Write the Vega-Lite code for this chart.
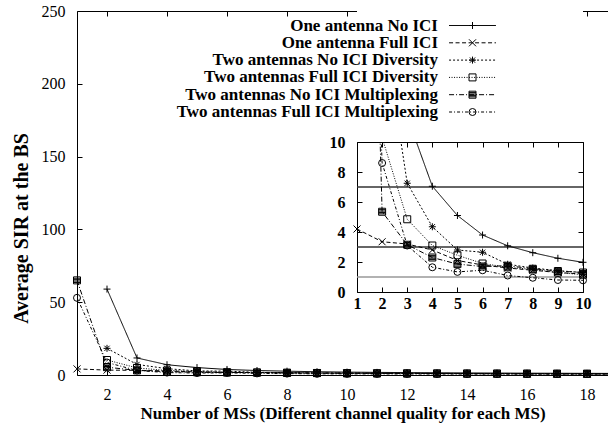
{
  "$schema": "https://vega.github.io/schema/vega-lite/v6.json",
  "autosize": "none",
  "padding": {"left": 77, "top": 11, "right": 0, "bottom": 53},
  "width": 531,
  "height": 364,
  "background": "white",
  "config": {
    "font": "Liberation Serif",
    "view": {"stroke": null},
    "axis": {
      "labelFont": "Liberation Serif", "labelFontSize": 16, "labelColor": "black",
      "titleFont": "Liberation Serif", "titleFontSize": 17, "titleFontWeight": "bold", "titleColor": "black",
      "domainColor": "black", "domainWidth": 1, "tickColor": "black", "tickWidth": 1,
      "grid": false, "labelFlush": false, "labelOverlap": false, "zindex": 1
    },
    "legend": {"symbolOpacity": 1}
  },
  "datasets": {
    "sir": [
      {"series": "One antenna No ICI", "n": 2, "sir": 59},
      {"series": "One antenna No ICI", "n": 3, "sir": 11.7},
      {"series": "One antenna No ICI", "n": 4, "sir": 7.05},
      {"series": "One antenna No ICI", "n": 5, "sir": 5.1},
      {"series": "One antenna No ICI", "n": 6, "sir": 3.8},
      {"series": "One antenna No ICI", "n": 7, "sir": 3.08},
      {"series": "One antenna No ICI", "n": 8, "sir": 2.62},
      {"series": "One antenna No ICI", "n": 9, "sir": 2.25},
      {"series": "One antenna No ICI", "n": 10, "sir": 1.98},
      {"series": "One antenna No ICI", "n": 11, "sir": 1.8},
      {"series": "One antenna No ICI", "n": 12, "sir": 1.65},
      {"series": "One antenna No ICI", "n": 13, "sir": 1.52},
      {"series": "One antenna No ICI", "n": 14, "sir": 1.42},
      {"series": "One antenna No ICI", "n": 15, "sir": 1.33},
      {"series": "One antenna No ICI", "n": 16, "sir": 1.25},
      {"series": "One antenna No ICI", "n": 17, "sir": 1.19},
      {"series": "One antenna No ICI", "n": 18, "sir": 1.13},
      {"series": "One antenna No ICI", "n": 19, "sir": 1.08},
      {"series": "One antenna Full ICI", "n": 1, "sir": 4.2},
      {"series": "One antenna Full ICI", "n": 2, "sir": 3.35},
      {"series": "One antenna Full ICI", "n": 3, "sir": 3.2},
      {"series": "One antenna Full ICI", "n": 4, "sir": 2.8},
      {"series": "One antenna Full ICI", "n": 5, "sir": 2.1},
      {"series": "One antenna Full ICI", "n": 6, "sir": 1.8},
      {"series": "One antenna Full ICI", "n": 7, "sir": 1.6},
      {"series": "One antenna Full ICI", "n": 8, "sir": 1.45},
      {"series": "One antenna Full ICI", "n": 9, "sir": 1.3},
      {"series": "One antenna Full ICI", "n": 10, "sir": 1.2},
      {"series": "One antenna Full ICI", "n": 11, "sir": 1.12},
      {"series": "One antenna Full ICI", "n": 12, "sir": 1.05},
      {"series": "One antenna Full ICI", "n": 13, "sir": 1.0},
      {"series": "One antenna Full ICI", "n": 14, "sir": 0.95},
      {"series": "One antenna Full ICI", "n": 15, "sir": 0.9},
      {"series": "One antenna Full ICI", "n": 16, "sir": 0.86},
      {"series": "One antenna Full ICI", "n": 17, "sir": 0.83},
      {"series": "One antenna Full ICI", "n": 18, "sir": 0.8},
      {"series": "One antenna Full ICI", "n": 19, "sir": 0.77},
      {"series": "Two antennas No ICI Diversity", "n": 2, "sir": 18.3},
      {"series": "Two antennas No ICI Diversity", "n": 3, "sir": 7.25},
      {"series": "Two antennas No ICI Diversity", "n": 4, "sir": 4.35},
      {"series": "Two antennas No ICI Diversity", "n": 5, "sir": 2.8},
      {"series": "Two antennas No ICI Diversity", "n": 6, "sir": 2.65},
      {"series": "Two antennas No ICI Diversity", "n": 7, "sir": 1.85},
      {"series": "Two antennas No ICI Diversity", "n": 8, "sir": 1.6},
      {"series": "Two antennas No ICI Diversity", "n": 9, "sir": 1.42},
      {"series": "Two antennas No ICI Diversity", "n": 10, "sir": 1.3},
      {"series": "Two antennas No ICI Diversity", "n": 11, "sir": 1.2},
      {"series": "Two antennas No ICI Diversity", "n": 12, "sir": 1.12},
      {"series": "Two antennas No ICI Diversity", "n": 13, "sir": 1.05},
      {"series": "Two antennas No ICI Diversity", "n": 14, "sir": 1.0},
      {"series": "Two antennas No ICI Diversity", "n": 15, "sir": 0.95},
      {"series": "Two antennas No ICI Diversity", "n": 16, "sir": 0.91},
      {"series": "Two antennas No ICI Diversity", "n": 17, "sir": 0.87},
      {"series": "Two antennas No ICI Diversity", "n": 18, "sir": 0.84},
      {"series": "Two antennas No ICI Diversity", "n": 19, "sir": 0.81},
      {"series": "Two antennas Full ICI Diversity", "n": 2, "sir": 10.3},
      {"series": "Two antennas Full ICI Diversity", "n": 3, "sir": 4.85},
      {"series": "Two antennas Full ICI Diversity", "n": 4, "sir": 3.1},
      {"series": "Two antennas Full ICI Diversity", "n": 5, "sir": 2.45},
      {"series": "Two antennas Full ICI Diversity", "n": 6, "sir": 1.9},
      {"series": "Two antennas Full ICI Diversity", "n": 7, "sir": 1.65},
      {"series": "Two antennas Full ICI Diversity", "n": 8, "sir": 1.5},
      {"series": "Two antennas Full ICI Diversity", "n": 9, "sir": 1.3},
      {"series": "Two antennas Full ICI Diversity", "n": 10, "sir": 1.15},
      {"series": "Two antennas Full ICI Diversity", "n": 11, "sir": 1.08},
      {"series": "Two antennas Full ICI Diversity", "n": 12, "sir": 1.02},
      {"series": "Two antennas Full ICI Diversity", "n": 13, "sir": 0.97},
      {"series": "Two antennas Full ICI Diversity", "n": 14, "sir": 0.92},
      {"series": "Two antennas Full ICI Diversity", "n": 15, "sir": 0.88},
      {"series": "Two antennas Full ICI Diversity", "n": 16, "sir": 0.85},
      {"series": "Two antennas Full ICI Diversity", "n": 17, "sir": 0.82},
      {"series": "Two antennas Full ICI Diversity", "n": 18, "sir": 0.79},
      {"series": "Two antennas Full ICI Diversity", "n": 19, "sir": 0.76},
      {"series": "Two antennas No ICI Multiplexing", "n": 1, "sir": 65},
      {"series": "Two antennas No ICI Multiplexing", "n": 2, "sir": 5.35},
      {"series": "Two antennas No ICI Multiplexing", "n": 3, "sir": 3.15},
      {"series": "Two antennas No ICI Multiplexing", "n": 4, "sir": 2.3},
      {"series": "Two antennas No ICI Multiplexing", "n": 5, "sir": 1.86},
      {"series": "Two antennas No ICI Multiplexing", "n": 6, "sir": 1.7},
      {"series": "Two antennas No ICI Multiplexing", "n": 7, "sir": 1.75},
      {"series": "Two antennas No ICI Multiplexing", "n": 8, "sir": 1.55},
      {"series": "Two antennas No ICI Multiplexing", "n": 9, "sir": 1.4},
      {"series": "Two antennas No ICI Multiplexing", "n": 10, "sir": 1.3},
      {"series": "Two antennas No ICI Multiplexing", "n": 11, "sir": 1.22},
      {"series": "Two antennas No ICI Multiplexing", "n": 12, "sir": 1.15},
      {"series": "Two antennas No ICI Multiplexing", "n": 13, "sir": 1.1},
      {"series": "Two antennas No ICI Multiplexing", "n": 14, "sir": 1.05},
      {"series": "Two antennas No ICI Multiplexing", "n": 15, "sir": 1.0},
      {"series": "Two antennas No ICI Multiplexing", "n": 16, "sir": 0.96},
      {"series": "Two antennas No ICI Multiplexing", "n": 17, "sir": 0.93},
      {"series": "Two antennas No ICI Multiplexing", "n": 18, "sir": 0.9},
      {"series": "Two antennas No ICI Multiplexing", "n": 19, "sir": 0.87},
      {"series": "Two antennas Full ICI Multiplexing", "n": 1, "sir": 53},
      {"series": "Two antennas Full ICI Multiplexing", "n": 2, "sir": 8.6},
      {"series": "Two antennas Full ICI Multiplexing", "n": 3, "sir": 3.1},
      {"series": "Two antennas Full ICI Multiplexing", "n": 4, "sir": 1.65},
      {"series": "Two antennas Full ICI Multiplexing", "n": 5, "sir": 1.34},
      {"series": "Two antennas Full ICI Multiplexing", "n": 6, "sir": 1.45},
      {"series": "Two antennas Full ICI Multiplexing", "n": 7, "sir": 1.1},
      {"series": "Two antennas Full ICI Multiplexing", "n": 8, "sir": 0.95},
      {"series": "Two antennas Full ICI Multiplexing", "n": 9, "sir": 0.8},
      {"series": "Two antennas Full ICI Multiplexing", "n": 10, "sir": 0.78},
      {"series": "Two antennas Full ICI Multiplexing", "n": 11, "sir": 0.74},
      {"series": "Two antennas Full ICI Multiplexing", "n": 12, "sir": 0.7},
      {"series": "Two antennas Full ICI Multiplexing", "n": 13, "sir": 0.67},
      {"series": "Two antennas Full ICI Multiplexing", "n": 14, "sir": 0.64},
      {"series": "Two antennas Full ICI Multiplexing", "n": 15, "sir": 0.62},
      {"series": "Two antennas Full ICI Multiplexing", "n": 16, "sir": 0.6},
      {"series": "Two antennas Full ICI Multiplexing", "n": 17, "sir": 0.58},
      {"series": "Two antennas Full ICI Multiplexing", "n": 18, "sir": 0.56},
      {"series": "Two antennas Full ICI Multiplexing", "n": 19, "sir": 0.55}
    ],
    "levels": [{"level": 7}, {"level": 3}, {"level": 1}]
  },
  "resolve": {
    "scale": {"x": "independent", "y": "independent", "strokeDash": "independent", "shape": "independent", "color": "independent"},
    "axis": {"x": "independent", "y": "independent"},
    "legend": {"strokeDash": "independent", "shape": "independent"}
  },
  "layer": [
    {
      "data": {"name": "sir"},
      "mark": {"type": "line", "clip": true, "color": "black", "strokeWidth": 1},
      "encoding": {
        "x": {"field": "n", "type": "quantitative",
          "scale": {"domain": [1, 18.7], "nice": false, "zero": false},
          "axis": {"orient": "bottom", "values": [2, 4, 6, 8, 10, 12, 14, 16, 18], "title": "Number of MSs (Different channel quality for each MS)", "tickSize": -5, "labelPadding": 16, "titlePadding": 3}},
        "y": {"field": "sir", "type": "quantitative",
          "scale": {"domain": [0, 250], "nice": false},
          "axis": {"orient": "left", "values": [0, 50, 100, 150, 200, 250], "title": "Average SIR at the BS", "titleFontSize": 20, "titleY": 217, "tickSize": -5, "labelPadding": 17, "titlePadding": 10}},
        "strokeDash": {"field": "series", "type": "nominal",
          "scale": {"domain": ["One antenna No ICI", "One antenna Full ICI", "Two antennas No ICI Diversity", "Two antennas Full ICI Diversity", "Two antennas No ICI Multiplexing", "Two antennas Full ICI Multiplexing"],
            "range": [[1, 0], [4, 2.5], [2, 2], [1, 1.5], [5, 2, 1, 2], [3, 2, 1, 2]]},
          "legend": {"orient": "none", "legendX": 387, "legendY": 6, "title": null, "padding": 0,
            "symbolType": "M-6.7,0H6.7", "symbolSize": 49, "symbolStrokeWidth": 1, "symbolStrokeColor": "black", "symbolFillColor": "transparent",
            "labelAlign": "right", "labelOffset": -43, "labelFont": "Liberation Serif", "labelFontSize": 17, "labelFontWeight": "bold", "labelColor": "black", "labelLimit": 400, "rowPadding": -0.7}}
      }
    },
    {
      "data": {"name": "sir"},
      "transform": [{"filter": "datum.n <= 18"}],
      "mark": {"type": "point", "filled": false, "color": "black", "strokeWidth": 1, "size": 49, "opacity": 1},
      "encoding": {
        "x": {"field": "n", "type": "quantitative",
          "scale": {"domain": [1, 18.7], "nice": false, "zero": false},
          "axis": {"orient": "top", "values": [2, 4, 6, 8, 10, 12, 14, 16, 18], "labels": false, "title": null, "tickSize": -5}},
        "y": {"field": "sir", "type": "quantitative", "scale": {"domain": [0, 250], "nice": false}, "axis": null},
        "shape": {"field": "series", "type": "nominal",
          "scale": {"domain": ["One antenna No ICI", "One antenna Full ICI", "Two antennas No ICI Diversity", "Two antennas Full ICI Diversity", "Two antennas No ICI Multiplexing", "Two antennas Full ICI Multiplexing"],
            "range": ["M-1,0H1M0,-1V1", "M-1,-1L1,1M-1,1L1,-1", "M-1,0H1M0,-1V1M-0.75,-0.75L0.75,0.75M-0.75,0.75L0.75,-0.75", "square", "M-1,-1H1V1H-1ZM-1,-0.6H1M-1,-0.2H1M-1,0.2H1M-1,0.6H1", "circle"]},
          "legend": {"orient": "none", "legendX": 387, "legendY": 6, "title": null, "padding": 0,
            "symbolSize": 49, "symbolStrokeWidth": 1, "symbolStrokeColor": "black", "symbolFillColor": "transparent",
            "labelAlign": "right", "labelOffset": -43, "labelFont": "Liberation Serif", "labelFontSize": 17, "labelFontWeight": "bold", "labelOpacity": 0, "labelLimit": 400, "rowPadding": -0.7}}
      }
    },
    {
      "data": {"name": "levels"},
      "mark": {"type": "rule", "strokeWidth": 1.5},
      "encoding": {
        "x": {"datum": 1, "type": "quantitative",
          "scale": {"domain": [1, 10], "range": [280, 506], "nice": false, "zero": false},
          "axis": {"orient": "bottom", "offset": -83, "values": [1, 2, 3, 4, 5, 6, 7, 8, 9, 10], "title": null, "labelFontWeight": "bold", "tickSize": -5, "labelPadding": 8}},
        "x2": {"datum": 10},
        "y": {"field": "level", "type": "quantitative",
          "scale": {"domain": [0, 10], "range": [281, 131], "nice": false},
          "axis": {"orient": "left", "offset": -280, "values": [0, 2, 4, 6, 8, 10], "title": null, "labelFontWeight": "bold", "tickSize": -5, "labelPadding": 17}},
        "color": {"field": "level", "type": "ordinal", "scale": {"domain": [7, 3, 1], "range": ["#333333", "#333333", "#999999"]}, "legend": null}
      }
    },
    {
      "data": {"name": "sir"},
      "transform": [{"filter": "datum.n <= 10"}],
      "mark": {"type": "line", "clip": true, "color": "black", "strokeWidth": 1},
      "encoding": {
        "x": {"field": "n", "type": "quantitative",
          "scale": {"domain": [1, 10], "range": [280, 506], "nice": false, "zero": false},
          "axis": {"orient": "top", "offset": -131, "values": [1, 2, 3, 4, 5, 6, 7, 8, 9, 10], "labels": false, "title": null, "tickSize": -5}},
        "y": {"field": "sir", "type": "quantitative",
          "scale": {"domain": [0, 10], "range": [281, 131], "nice": false},
          "axis": {"orient": "right", "offset": -25, "values": [0, 2, 4, 6, 8, 10], "labels": false, "title": null, "tickSize": -5}},
        "strokeDash": {"field": "series", "type": "nominal",
          "scale": {"domain": ["One antenna No ICI", "One antenna Full ICI", "Two antennas No ICI Diversity", "Two antennas Full ICI Diversity", "Two antennas No ICI Multiplexing", "Two antennas Full ICI Multiplexing"],
            "range": [[1, 0], [4, 2.5], [2, 2], [1, 1.5], [5, 2, 1, 2], [3, 2, 1, 2]]},
          "legend": null}
      }
    },
    {
      "data": {"values": [{"mask": "above inset"}]},
      "mark": {"type": "rect", "clip": true, "color": "white", "opacity": 1},
      "encoding": {
        "x": {"datum": 1, "type": "quantitative", "scale": {"domain": [1, 10], "range": [280, 506], "nice": false, "zero": false}, "axis": null},
        "x2": {"datum": 10},
        "y": {"datum": 10, "type": "quantitative", "scale": {"domain": [0, 10], "range": [281, 131], "nice": false}, "axis": null},
        "y2": {"datum": 30}
      }
    },
    {
      "data": {"name": "sir"},
      "transform": [{"filter": "datum.n <= 10 && datum.sir <= 10"}],
      "mark": {"type": "point", "filled": false, "color": "black", "strokeWidth": 1, "size": 49, "opacity": 1},
      "encoding": {
        "x": {"field": "n", "type": "quantitative", "scale": {"domain": [1, 10], "range": [280, 506], "nice": false, "zero": false}, "axis": null},
        "y": {"field": "sir", "type": "quantitative", "scale": {"domain": [0, 10], "range": [281, 131], "nice": false}, "axis": null},
        "shape": {"field": "series", "type": "nominal",
          "scale": {"domain": ["One antenna No ICI", "One antenna Full ICI", "Two antennas No ICI Diversity", "Two antennas Full ICI Diversity", "Two antennas No ICI Multiplexing", "Two antennas Full ICI Multiplexing"],
            "range": ["M-1,0H1M0,-1V1", "M-1,-1L1,1M-1,1L1,-1", "M-1,0H1M0,-1V1M-0.75,-0.75L0.75,0.75M-0.75,0.75L0.75,-0.75", "square", "M-1,-1H1V1H-1ZM-1,-0.6H1M-1,-0.2H1M-1,0.2H1M-1,0.6H1", "circle"]},
          "legend": null}
      }
    }
  ]
}
